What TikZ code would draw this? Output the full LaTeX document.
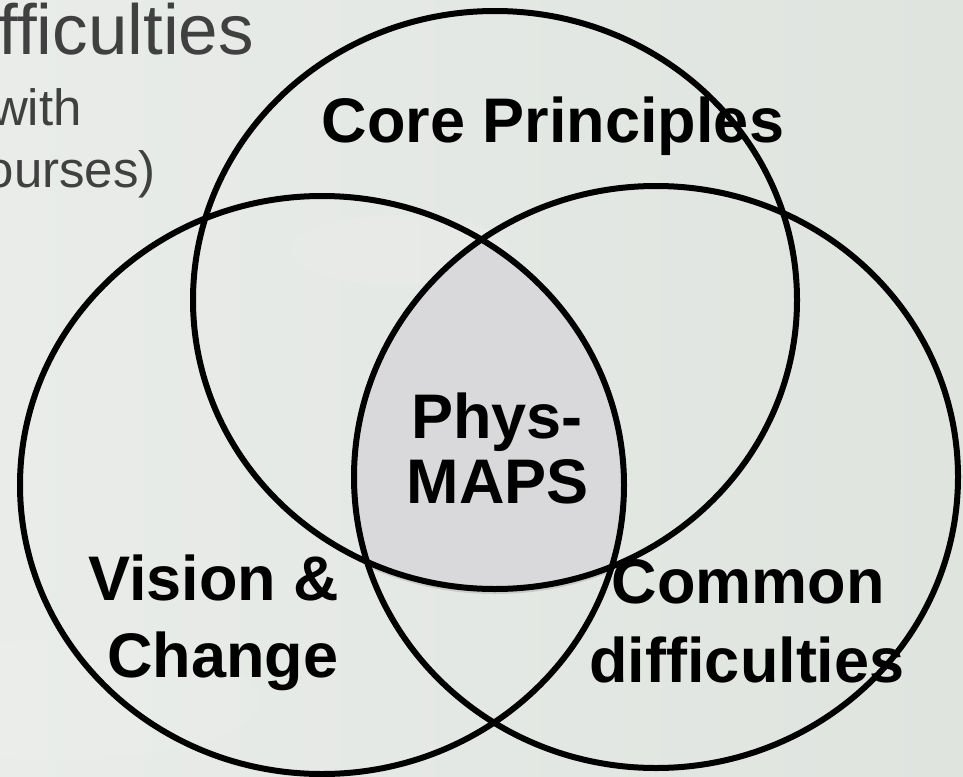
\documentclass[tikz,border=0pt]{standalone}
\usepackage{fontspec}
\setmainfont{Liberation Sans}
\definecolor{bgleft}{HTML}{E9ECE9}
\definecolor{bgright}{HTML}{DFE4DF}
\definecolor{lensfill}{HTML}{D9D9DB}
\definecolor{bgtxt}{HTML}{404040}
\begin{document}
\begin{tikzpicture}[x=1pt,y=-1pt,
  ring/.style={draw=black, line width=6pt},
  lbl/.style={font=\fontsize{63}{76}\selectfont\bfseries, text=black, inner sep=0pt, anchor=base},
  bgtextbig/.style={font=\fontsize{71}{80}\selectfont, text=bgtxt, inner sep=0pt, anchor=base east},
  bgtextsmall/.style={font=\fontsize{51}{60}\selectfont, text=bgtxt, inner sep=0pt, anchor=base east}]
\useasboundingbox (0,0) rectangle (963,776);
% background
\shade[left color=bgleft, right color=bgright] (0,0) rectangle (963,776);
\fill[white, opacity=0.08] (400,250) ellipse [x radius=110pt, y radius=35pt];
\fill[white, opacity=0.07] (60,700) ellipse [x radius=200pt, y radius=60pt];
% background text (partly hidden at the left edge)
\node[bgtextbig] (bg1) at (254,55) {fficulties};
\node[bgtextsmall] (bg2) at (82,125) {with};
\node[bgtextsmall] (bg3) at (156,187) {ourses)};
% shadow of the shared region
\begin{scope}[shift={(0,5)}]
  \clip (495,300) ellipse [x radius=302pt, y radius=289pt];
  \clip (322,485) ellipse [x radius=302pt, y radius=289pt];
  \fill[black, opacity=0.12] (656,477) ellipse [x radius=302pt, y radius=291pt];
\end{scope}
% shared region
\begin{scope}
  \clip (495,300) ellipse [x radius=302pt, y radius=289pt];
  \clip (322,485) ellipse [x radius=302pt, y radius=289pt];
  \fill[lensfill] (656,477) ellipse [x radius=302pt, y radius=291pt];
\end{scope}
% the three rings
\draw[ring] (495,300) ellipse [x radius=302pt, y radius=289pt];
\draw[ring] (322,485) ellipse [x radius=302pt, y radius=289pt];
\draw[ring] (656,477) ellipse [x radius=302pt, y radius=291pt];
% labels
\node[lbl] (core) at (553,142) {Core Principles};
\node[lbl] (phys) at (497,438) {Phys-};
\node[lbl] (maps) at (498,503) {MAPS};
\node[lbl] (vision) at (214,600) {Vision \&};
\node[lbl] (change) at (223,677) {Change};
\node[lbl] (common) at (748,603) {Common};
\node[lbl] (diff) at (747,682) {difficulties};
\end{tikzpicture}
\end{document}
